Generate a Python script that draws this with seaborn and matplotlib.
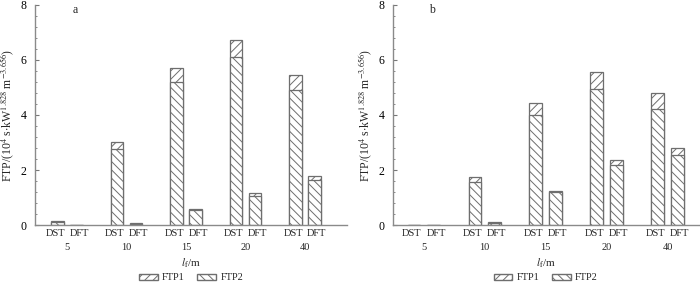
import numpy as np
import pandas as pd
import matplotlib
matplotlib.use("Agg")
import matplotlib.pyplot as plt
import seaborn as sns
from matplotlib.patches import Patch

# ----------------------------------------------------------
# DATA
# ----------------------------------------------------------
groups = ["5", "10", "15", "20", "40"]
types = ["DST", "DFT"]

# panel a: FTP2 (lower part) and total FTP1+FTP2 (top of bar)
a_dst_ftp2 = [0.12, 2.77, 5.21, 6.10, 4.91]
a_dst_total = [0.15, 3.03, 5.71, 6.71, 5.46]
a_dft_ftp2 = [0.0, 0.05, 0.56, 1.06, 1.63]
a_dft_total = [0.0, 0.07, 0.60, 1.15, 1.77]

# panel b
b_dst_ftp2 = [0.0, 1.58, 4.00, 4.96, 4.22]
b_dst_total = [0.0, 1.75, 4.43, 5.56, 4.80]
b_dft_ftp2 = [0.0, 0.08, 1.19, 2.19, 2.55]
b_dft_total = [0.0, 0.13, 1.25, 2.38, 2.81]

panels = [
    ("a", a_dst_ftp2, a_dst_total, a_dft_ftp2, a_dft_total),
    ("b", b_dst_ftp2, b_dst_total, b_dft_ftp2, b_dft_total),
]

# ----------------------------------------------------------
# STYLE
# ----------------------------------------------------------
sns.set_style("ticks")
plt.rcParams["font.family"] = ["Liberation Serif", "DejaVu Serif"]
plt.rcParams["mathtext.fontset"] = "stix"
plt.rcParams["hatch.linewidth"] = 0.7
plt.rcParams["hatch.color"] = "black"

EDGE = "#6e6e6e"
OFF = 0.16      # bar offset from group centre
LOFF = 0.20     # tick label offset from group centre
FS = 7.5

fig = plt.figure(figsize=(7.0, 2.86), dpi=100)
axes_pos = [[0.050, 0.213, 0.446, 0.770], [0.561, 0.213, 0.437, 0.770]]
xlims = [(-0.54, 4.71), (-0.51, 4.51)]

for k, (tag, dst2, dstt, dft2, dftt) in enumerate(panels):
    ax = fig.add_axes(axes_pos[k])

    pos = np.arange(len(groups))
    df = pd.DataFrame({
        "x": np.concatenate([pos - OFF, pos + OFF]),
        "total": dstt + dftt,
        "ftp2": dst2 + dft2,
    })

    # full bar (FTP1 hatch on top), then FTP2 bar over its lower part
    sns.barplot(data=df, x="x", y="total", native_scale=True, width=0.66,
                color="white", edgecolor=EDGE, linewidth=0.9, hatch="////",
                errorbar=None, ax=ax)
    sns.barplot(data=df, x="x", y="ftp2", native_scale=True, width=0.66,
                color="white", edgecolor=EDGE, linewidth=0.9, hatch="\\\\\\\\",
                errorbar=None, ax=ax)

    ax.set_xlim(*xlims[k])
    ax.set_ylim(0, 8)
    ax.set_yticks([0, 2, 4, 6, 8])
    ax.set_yticks(np.arange(0, 8.01, 0.4), minor=True)
    ax.tick_params(axis="y", which="both", direction="in", colors="#777777",
                   labelcolor="black", labelsize=8.5, pad=6)
    ax.tick_params(axis="y", which="major", length=3)
    ax.tick_params(axis="y", which="minor", length=1.5)

    ax.set_xticks(np.concatenate([pos - LOFF, pos + LOFF]))
    ax.set_xticklabels(types[0:1] * len(groups) + types[1:2] * len(groups))
    ax.set_xticks(pos, minor=True)
    ax.set_xticklabels(groups, minor=True)
    ax.tick_params(axis="x", which="both", length=0, labelsize=FS)
    ax.tick_params(axis="x", which="major", pad=3)
    ax.tick_params(axis="x", which="minor", pad=13)

    sns.despine(ax=ax)
    for s in ["left", "bottom"]:
        ax.spines[s].set_color("#8a8a8a")
        ax.spines[s].set_linewidth(1.0)

    ax.set_xlabel(r"$l_{\rm f}$/m", fontsize=FS + 0.5, labelpad=3)
    ax.set_ylabel(r"FTP/(10$^4$ s$\cdot$kW$^{1.828}$ m$^{-3.656}$)",
                  fontsize=8.5, labelpad=3)
    ax.text(0.13, 0.975, tag, transform=ax.transAxes, fontsize=8.5,
            ha="center", va="center")

    handles = [
        Patch(facecolor="white", edgecolor=EDGE, hatch="////", label="FTP1"),
        Patch(facecolor="white", edgecolor=EDGE, hatch="\\\\\\\\", label="FTP2"),
    ]
    ax.legend(handles=handles, loc="center", bbox_to_anchor=(0.5, -0.24),
              ncol=2, frameon=False, fontsize=FS, handlelength=1.8,
              handleheight=0.55, columnspacing=1.2, handletextpad=0.4,
              borderaxespad=0, borderpad=0)

fig.savefig("out.png", dpi=100)
